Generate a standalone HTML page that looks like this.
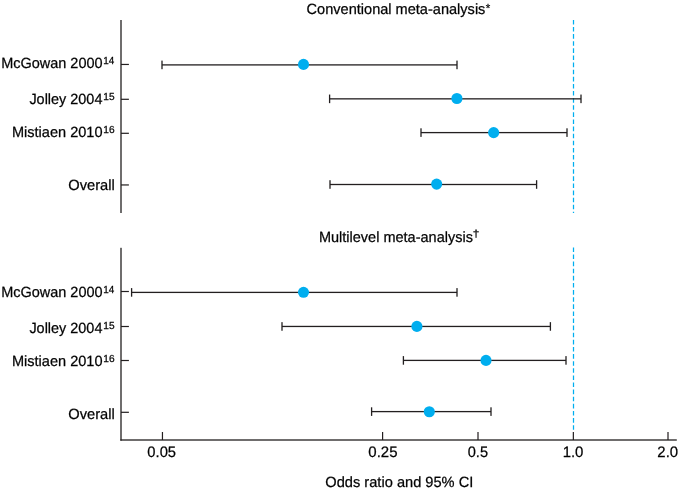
<!DOCTYPE html>
<html><head><meta charset="utf-8"><title>Forest plot</title>
<style>html,body{margin:0;padding:0;background:#fff}body{width:680px;height:491px;overflow:hidden;font-family:"Liberation Sans",sans-serif}svg{display:block}</style>
</head><body>
<svg width="680" height="491" viewBox="0 0 680 491">
<g fill="#231f20">
<rect x="120.35" y="20.00" width="1.3" height="193.00"/>
<rect x="120.35" y="247.80" width="1.3" height="192.85"/>
<rect x="120.35" y="439.35" width="556.45" height="1.3"/>
<rect x="121.00" y="63.85" width="7.90" height="1.2"/>
<rect x="121.00" y="98.70" width="7.90" height="1.2"/>
<rect x="121.00" y="132.70" width="7.90" height="1.2"/>
<rect x="121.00" y="184.35" width="7.90" height="1.2"/>
<rect x="121.00" y="290.90" width="7.90" height="1.2"/>
<rect x="121.00" y="325.90" width="7.90" height="1.2"/>
<rect x="121.00" y="359.90" width="7.90" height="1.2"/>
<rect x="121.00" y="411.70" width="7.90" height="1.2"/>
<rect x="161.85" y="432.00" width="1.2" height="8.00"/>
<rect x="382.00" y="432.00" width="1.2" height="8.00"/>
<rect x="477.40" y="432.00" width="1.2" height="8.00"/>
<rect x="572.75" y="432.00" width="1.2" height="8.00"/>
<rect x="667.40" y="432.00" width="1.2" height="8.00"/>
</g>
<g stroke="#00aeef" stroke-width="1.25" stroke-dasharray="4.6 2.51" fill="none">
<path d="M573.5 19.9V213"/><path d="M573.5 247.4V431.5"/>
</g>
<g fill="#231f20">
<rect x="162.00" y="64.25" width="295.00" height="1.3"/><rect x="161.35" y="60.60" width="1.3" height="8.60"/><rect x="456.35" y="60.60" width="1.3" height="8.60"/>
<rect x="329.60" y="98.20" width="251.40" height="1.3"/><rect x="328.95" y="94.55" width="1.3" height="8.60"/><rect x="580.35" y="94.55" width="1.3" height="8.60"/>
<rect x="421.00" y="131.95" width="146.00" height="1.3"/><rect x="420.35" y="128.30" width="1.3" height="8.60"/><rect x="566.35" y="128.30" width="1.3" height="8.60"/>
<rect x="330.00" y="183.85" width="206.60" height="1.3"/><rect x="329.35" y="180.20" width="1.3" height="8.60"/><rect x="535.95" y="180.20" width="1.3" height="8.60"/>
<rect x="131.60" y="291.75" width="325.40" height="1.3"/><rect x="130.95" y="288.10" width="1.3" height="8.60"/><rect x="456.35" y="288.10" width="1.3" height="8.60"/>
<rect x="282.00" y="325.80" width="268.40" height="1.3"/><rect x="281.35" y="322.15" width="1.3" height="8.60"/><rect x="549.75" y="322.15" width="1.3" height="8.60"/>
<rect x="403.40" y="359.75" width="162.60" height="1.3"/><rect x="402.75" y="356.10" width="1.3" height="8.60"/><rect x="565.35" y="356.10" width="1.3" height="8.60"/>
<rect x="371.60" y="410.95" width="119.40" height="1.3"/><rect x="370.95" y="407.30" width="1.3" height="8.60"/><rect x="490.35" y="407.30" width="1.3" height="8.60"/>
</g>
<g fill="#00aeef">
<circle cx="303.5" cy="64.4" r="5.55"/>
<circle cx="456.9" cy="98.5" r="5.55"/>
<circle cx="493.65" cy="132.6" r="5.55"/>
<circle cx="436.65" cy="184.1" r="5.55"/>
<circle cx="303.5" cy="292.3" r="5.55"/>
<circle cx="416.9" cy="326.4" r="5.55"/>
<circle cx="486.0" cy="360.4" r="5.55"/>
<circle cx="429.3" cy="411.75" r="5.55"/>
</g>
<g font-family="Liberation Sans, sans-serif" fill="#000" opacity="0.995" text-rendering="geometricPrecision" stroke="#000" stroke-width="0.25">
<text transform="translate(1.13 68.4) scale(0.9786 1)" font-size="14.8">McGowan 2000</text>
<text transform="translate(103.26 64.0) scale(0.9715 1)" font-size="10.2">14</text>
<text transform="translate(29.41 104.0) scale(0.9751 1)" font-size="14.8">Jolley 2004</text>
<text transform="translate(103.25 100.0) scale(0.9935 1)" font-size="10.2">15</text>
<text transform="translate(11.93 137.0) scale(0.9836 1)" font-size="14.8">Mistiaen 2010</text>
<text transform="translate(103.25 133.25) scale(0.9956 1)" font-size="10.2">16</text>
<text transform="translate(68.22 189.8) scale(0.9926 1)" font-size="14.8">Overall</text>
<text transform="translate(306.58 14.45) scale(0.9838 1)" font-size="14.8">Conventional meta-analysis</text>
<text transform="translate(485.85 11.9) scale(0.9868 1)" font-size="11.7">*</text>
<text transform="translate(318.88 242.1) scale(0.9807 1)" font-size="14.8">Multilevel meta-analysis</text>
<text transform="translate(472.74 237.15) scale(1.1650 1)" font-size="10.2">†</text>
<text transform="translate(147.34 456.65) scale(0.9760 1)" font-size="15.1">0.05</text>
<text transform="translate(368.34 456.65) scale(0.9918 1)" font-size="15.1">0.25</text>
<text transform="translate(467.75 456.65) scale(0.9646 1)" font-size="15.1">0.5</text>
<text transform="translate(562.63 456.65) scale(0.9924 1)" font-size="15.1">1.0</text>
<text transform="translate(657.37 456.65) scale(0.9905 1)" font-size="15.1">2.0</text>
<text transform="translate(325.33 486.8) scale(0.9886 1)" font-size="14.8">Odds ratio and 95% CI</text>
<text transform="translate(1.13 297.4) scale(0.9786 1)" font-size="14.8">McGowan 2000</text>
<text transform="translate(103.26 293.0) scale(0.9715 1)" font-size="10.2">14</text>
<text transform="translate(29.41 333.0) scale(0.9751 1)" font-size="14.8">Jolley 2004</text>
<text transform="translate(103.25 329.0) scale(0.9935 1)" font-size="10.2">15</text>
<text transform="translate(11.93 366.0) scale(0.9836 1)" font-size="14.8">Mistiaen 2010</text>
<text transform="translate(103.25 362.25) scale(0.9956 1)" font-size="10.2">16</text>
<text transform="translate(68.22 418.8) scale(0.9926 1)" font-size="14.8">Overall</text>
</g></svg>
</body></html>
